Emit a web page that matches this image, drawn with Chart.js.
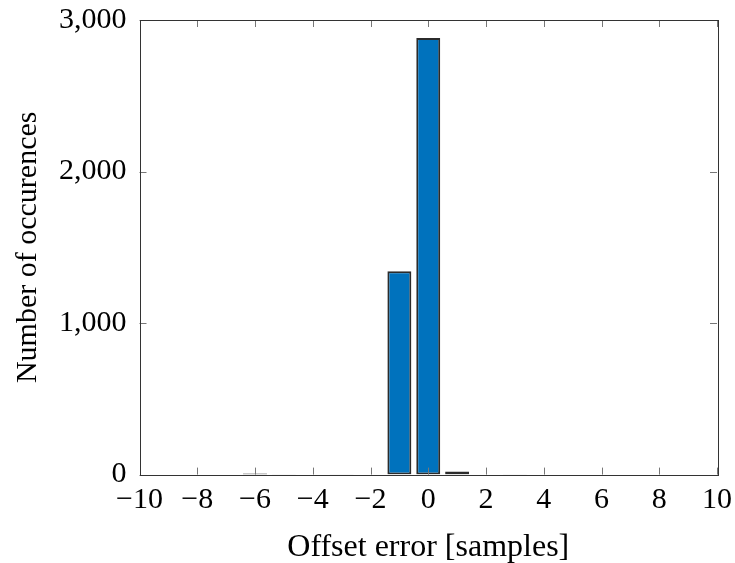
<!DOCTYPE html>
<html>
<head>
<meta charset="utf-8">
<script src="https://cdn.jsdelivr.net/npm/chart.js@4/dist/chart.umd.min.js"></script>
<style>
  body { margin: 0; background: #fff; }
  #wrap { width: 735px; height: 563px; }
</style>
</head>
<body>
<div id="wrap"><canvas id="myChart"></canvas></div>
<script>
const ctx = document.getElementById('myChart').getContext('2d');

// offset error bins and counts
const offsets = [-10, -9, -8, -7, -6, -5, -4, -3, -2, -1, 0, 1, 2, 3, 4, 5, 6, 7, 8, 9, 10];
const counts  = [0, 0, 0, 0, 8, 2, 0, 2, 0, 1342, 2881, 20, 0, 2, 0, 0, 0, 0, 0, 0, 0];
const xTicks = [-10, -8, -6, -4, -2, 0, 2, 4, 6, 8, 10];
const yTicks = [0, 1000, 2000, 3000];

const FONT = 'Liberation Serif';

// pgfplots-style frame with inward ticks on all four sides
const framePlugin = {
  id: 'frame',
  afterDatasetsDraw(chart) {
    const {ctx, chartArea: a, scales: {x, y}} = chart;
    ctx.save();
    ctx.strokeStyle = '#777';
    ctx.lineWidth = 1;
    ctx.beginPath();
    xTicks.forEach(v => {
      const px = Math.round(x.getPixelForValue(v)) + 0.5;
      ctx.moveTo(px, a.bottom); ctx.lineTo(px, a.bottom - 7);
      ctx.moveTo(px, a.top); ctx.lineTo(px, a.top + 7);
    });
    yTicks.forEach(v => {
      const py = Math.round(y.getPixelForValue(v)) + 0.5;
      ctx.moveTo(a.left, py); ctx.lineTo(a.left + 7, py);
      ctx.moveTo(a.right, py); ctx.lineTo(a.right - 7, py);
    });
    ctx.stroke();
    ctx.strokeStyle = '#333';
    ctx.strokeRect(Math.round(a.left) + 0.5, Math.round(a.top) + 0.5,
      Math.round(a.right - a.left), Math.round(a.bottom - a.top));
    ctx.restore();
  }
};

new Chart(ctx, {
  type: 'bar',
  data: {
    datasets: [{
      data: offsets.map((o, i) => ({x: o, y: counts[i]})),
      backgroundColor: '#0072BD',
      borderColor: '#2b2b2b',
      borderWidth: 2,
      borderSkipped: false,
      barPercentage: 0.83,
      categoryPercentage: 1
    }]
  },
  options: {
    responsive: true,
    maintainAspectRatio: false,
    animation: false,
    layout: { padding: { top: 0, right: 0, left: 10, bottom: -4 } },
    plugins: { legend: { display: false }, tooltip: { enabled: false } },
    scales: {
      x: {
        type: 'linear',
        min: -10, max: 10,
        offset: false,
        grid: { display: false },
        border: { display: false },
        afterBuildTicks: s => { s.ticks = xTicks.map(v => ({value: v})); },
        afterFit: s => { s.paddingRight = 18; },
        ticks: {
          color: '#000',
          font: { family: FONT, size: 30 },
          padding: 0,
          maxRotation: 0,
          autoSkip: false,
          callback: v => String(v).replace('-', '\u2212')
        },
        title: {
          display: true,
          text: 'Offset error [samples]',
          color: '#000',
          font: { family: FONT, size: 32 },
          padding: { top: 10, bottom: 0 }
        }
      },
      y: {
        min: 0, max: 3000,
        grid: { display: false },
        border: { display: false },
        afterBuildTicks: s => { s.ticks = yTicks.map(v => ({value: v})); },
        afterFit: s => { s.paddingTop = 20; },
        ticks: {
          color: '#000',
          font: { family: FONT, size: 30 },
          padding: 5,
          callback: v => v.toLocaleString('en-US')
        },
        title: {
          display: true,
          text: 'Number of occurences',
          color: '#000',
          font: { family: FONT, size: 30 },
          padding: { top: 0, bottom: 8 }
        }
      }
    }
  },
  plugins: [framePlugin]
});
</script>
</body>
</html>
